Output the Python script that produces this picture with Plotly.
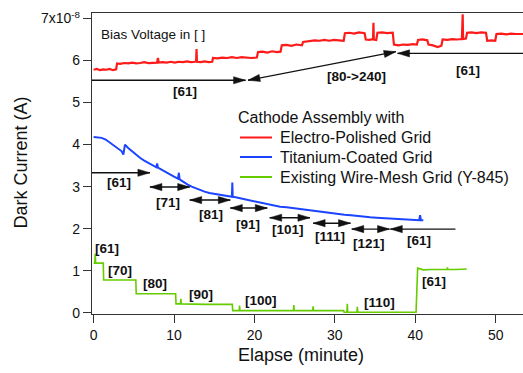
import plotly.graph_objects as go

# ---------------- data ----------------
red_x = [0, 0.4, 0.8, 1.2, 1.6, 2.0, 2.4, 2.8, 2.92, 3.3, 3.8, 4.3, 4.8, 5.3, 5.8, 6.3, 6.8, 7.3, 7.9, 8.0,
         8.1, 8.6, 9.1, 9.6, 10.1, 10.6, 11.1, 11.6, 12.1, 12.6, 12.75, 12.8, 12.85, 13.3, 13.8, 14.3, 14.75, 14.85,
         15.4, 16.0, 16.6, 17.2, 17.8, 18.4, 19.0, 19.6, 20.3, 20.45, 21.0, 21.6, 22.2, 22.8, 23.25, 23.4,
         24.0, 24.6, 25.2, 25.9, 26.05, 26.6, 27.0, 27.5, 28.1, 28.7, 29.3, 29.9, 30.5, 31.1, 31.25, 31.8,
         32.4, 33.0, 33.7, 33.85, 34.3, 34.75, 34.8, 34.85, 35.15, 35.3, 35.9, 36.5, 37.2, 37.35, 37.9, 38.5,
         39.1, 39.7, 40.2, 40.35, 40.9, 41.5, 41.65, 42.2, 42.8, 43.25, 43.4, 44.0, 44.6, 45.2, 45.8, 45.9,
         45.95, 46.3, 46.45, 47.0, 47.6, 48.2, 48.8, 48.95, 49.5, 49.95, 50.1, 50.7, 51.3, 51.9, 52.5, 53.1, 53.4]
red_y = [5.78, 5.80, 5.77, 5.79, 5.78, 5.80, 5.77, 5.79, 5.93, 5.92, 5.94, 5.93, 5.95, 5.93, 5.94, 5.96, 5.94, 5.95, 5.95, 6.06,
         5.95, 5.96, 5.95, 5.97, 5.95, 5.97, 5.96, 5.98, 5.96, 5.97, 5.98, 6.27, 5.97, 5.96, 5.98, 5.96, 5.97, 6.06,
         6.05, 6.07, 6.06, 6.08, 6.06, 6.08, 6.07, 6.06, 6.07, 6.20, 6.21, 6.19, 6.22, 6.20, 6.21, 6.36,
         6.37, 6.35, 6.38, 6.36, 6.44, 6.45, 6.46, 6.48, 6.47, 6.49, 6.47, 6.49, 6.48, 6.47, 6.65, 6.66,
         6.64, 6.67, 6.65, 6.50, 6.49, 6.51, 6.90, 6.50, 6.49, 6.66, 6.67, 6.65, 6.66, 6.38, 6.36, 6.38,
         6.37, 6.39, 6.38, 6.49, 6.50, 6.48, 6.38, 6.36, 6.32, 6.35, 6.50, 6.49, 6.51, 6.50, 6.51, 7.10,
         6.51, 6.52, 6.66, 6.67, 6.65, 6.67, 6.66, 6.47, 6.48, 6.47, 6.63, 6.64, 6.62, 6.64, 6.63, 6.64, 6.63]

blue_x = [0, 0.5, 1.0, 1.5, 2.0, 2.5, 3.0, 3.5, 3.7, 3.8, 3.9, 4.3, 4.8, 5.3, 5.8, 6.3, 6.8, 7.3, 7.8, 7.9,
          8.0, 8.5, 9.0, 9.5, 10.0, 10.5, 10.6, 10.7, 11.2, 11.7, 12.2, 12.7, 13.2, 13.8, 14.4, 15.0, 15.6, 16.2,
          16.8, 17.2, 17.25, 17.3, 17.8, 18.5, 19.2, 20.0, 20.8, 21.6, 22.4, 23.2, 24.0, 24.8, 25.6, 26.4,
          27.2, 28.0, 28.8, 29.6, 30.4, 31.2, 32.0, 32.8, 33.6, 34.4, 35.2, 36.0, 36.8, 37.6, 38.4, 39.2,
          40.0, 40.5, 40.6, 40.7, 41.0]
blue_y = [4.18, 4.17, 4.16, 4.12, 4.05, 3.99, 3.92, 3.84, 3.76, 3.98, 4.00, 3.92, 3.84, 3.75, 3.68, 3.62, 3.57, 3.51, 3.46, 3.55,
          3.45, 3.40, 3.34, 3.29, 3.24, 3.19, 3.33, 3.17, 3.10, 3.05, 3.00, 2.96, 2.92, 2.88, 2.85, 2.83, 2.81, 2.79,
          2.77, 2.76, 3.10, 2.76, 2.74, 2.71, 2.68, 2.65, 2.61, 2.58, 2.55, 2.52, 2.51, 2.49, 2.47, 2.45,
          2.42, 2.40, 2.38, 2.37, 2.35, 2.33, 2.32, 2.30, 2.29, 2.27, 2.26, 2.25, 2.24, 2.23, 2.22, 2.21,
          2.21, 2.20, 2.32, 2.20, 2.20]

green_x = [0, 0.15, 0.2, 0.25, 1.2, 1.25, 3.0, 5.25, 5.3, 8.0, 10.2, 10.25, 10.8, 10.85, 10.9, 14.0, 17.25, 17.3,
           18.1, 18.15, 18.2, 24.85, 24.9, 24.95, 27.25, 27.3, 27.35, 31.1, 31.15, 31.5, 31.55, 31.6, 32.75,
           32.8, 32.85, 36.0, 40.1, 40.3, 41.0, 42.0, 43.95, 44.0, 44.05, 45.0, 46.4]
green_y = [1.18, 1.18, 1.40, 1.18, 1.18, 0.78, 0.78, 0.78, 0.45, 0.45, 0.45, 0.21, 0.21, 0.33, 0.21, 0.20, 0.20, 0.05,
           0.05, 0.17, 0.05, 0.05, 0.18, 0.05, 0.05, 0.15, 0.05, 0.05, 0.01, 0.01, 0.21, 0.01, 0.01,
           0.14, 0.01, 0.01, 0.01, 1.06, 1.02, 1.03, 1.03, 1.08, 1.03, 1.03, 1.04]

legend_title = "Cathode Assembly with"
series_names = ["Electro-Polished Grid", "Titanium-Coated Grid", "Existing Wire-Mesh Grid (Y-845)"]
series_colors = ["#ff1a1a", "#1a44ff", "#66cc00"]

# arrows: (x0, y0) -> (x1, y1), head at end (and at start when "both")
arrow_x0 = [-0.2, 19.2, 53.4, -0.2, 7.0, 11.95, 17.0, 21.9, 27.3, 32.1, 45.0]
arrow_y0 = [5.53, 5.53, 6.17, 3.33, 2.99, 2.68, 2.49, 2.26, 2.13, 1.99, 1.99]
arrow_x1 = [18.9, 37.6, 37.8, 7.0, 11.95, 17.0, 21.6, 26.9, 31.95, 36.8, 36.9]
arrow_y1 = [5.53, 6.21, 6.17, 3.33, 2.99, 2.68, 2.49, 2.26, 2.13, 1.99, 1.99]
arrow_both = [False, True, False, False, True, True, True, True, True, True, False]

label_text = ["[61]", "[80->240]", "[61]",
              "[61]", "[71]", "[81]", "[91]", "[101]", "[111]", "[121]", "[61]",
              "[61]", "[70]", "[80]", "[90]", "[100]", "[110]", "[61]"]
label_x = [11.4, 32.7, 46.6,
           3.2, 9.25, 14.6, 19.2, 24.2, 29.4, 34.3, 40.5,
           1.64, 3.3, 7.6, 13.4, 20.8, 35.5, 42.3]
label_y = [5.26, 5.61, 5.77,
           3.10, 2.63, 2.34, 2.09, 1.97, 1.81, 1.65, 1.73,
           1.52, 1.00, 0.70, 0.43, 0.28, 0.24, 0.74]

y_tickvals = [0, 1, 2, 3, 4, 5, 6, 7]
y_ticktext = ["0", "1", "2", "3", "4", "5", "6", "7x10<sup>-8</sup>"]
x_tickvals = [0, 10, 20, 30, 40, 50]

# ---------------- figure ----------------
W, H = 523, 373
ML, MR, MT, MB = 92, 0, 13, 59
XR = [-0.2, 53.4]
YR = [-0.03, 7.13]
FONT = "Arial, Liberation Sans, sans-serif"
PW, PH = W - ML - MR, H - MT - MB


def pxx(px):  # pixel x -> paper x
    return (px - ML) / PW


def pxy(py):  # pixel y -> paper y
    return (H - MB - py) / PH


fig = go.Figure()
for xs, ys, nm, col, lw in zip([red_x, blue_x, green_x], [red_y, blue_y, green_y],
                               series_names, series_colors, [2.2, 2.0, 1.6]):
    fig.add_trace(go.Scatter(x=xs, y=ys, mode="lines", name=nm, showlegend=False,
                             line=dict(color=col, width=lw)))

# arrows built from arrow lists, heads sized in pixels
kx = PW / (XR[1] - XR[0])
ky = PH / (YR[1] - YR[0])
HEAD_L, HEAD_W = 12.0, 3.6
shapes = []


def head(xt, yt, xf, yf):
    dxp = (xt - xf) * kx
    dyp = (yt - yf) * ky
    n = (dxp ** 2 + dyp ** 2) ** 0.5
    ux, uy = dxp / n, dyp / n
    bx, by = -ux * HEAD_L, -uy * HEAD_L
    qx, qy = -uy * HEAD_W, ux * HEAD_W
    p1 = (xt + (bx + qx) / kx, yt + (by + qy) / ky)
    p2 = (xt + (bx - qx) / kx, yt + (by - qy) / ky)
    return dict(type="path", xref="x", yref="y",
                path=f"M{xt},{yt} L{p1[0]},{p1[1]} L{p2[0]},{p2[1]} Z",
                fillcolor="#111", line=dict(color="#111", width=0.5))


for x0, y0, x1, y1, both in zip(arrow_x0, arrow_y0, arrow_x1, arrow_y1, arrow_both):
    shapes.append(dict(type="line", xref="x", yref="y", x0=x0, y0=y0, x1=x1, y1=y1,
                       line=dict(color="#111", width=1.4)))
    shapes.append(head(x1, y1, x0, y0))
    if both:
        shapes.append(head(x0, y0, x1, y1))

annotations = []
for t, x, y in zip(label_text, label_x, label_y):
    annotations.append(dict(x=x, y=y, xref="x", yref="y", text=f"<b>{t}</b>", showarrow=False,
                            font=dict(family=FONT, size=13.5, color="#111"),
                            xanchor="center", yanchor="middle"))

# legend drawn as text + sample lines
LEG_TITLE_Y = 118
LEG_ROWS_Y = [137.5, 157, 177]
annotations.append(dict(x=pxx(236), y=pxy(LEG_TITLE_Y), xref="paper", yref="paper", text=legend_title,
                        showarrow=False, font=dict(family=FONT, size=16, color="#111"),
                        xanchor="left", yanchor="middle"))
for nm, col, ry in zip(series_names, series_colors, LEG_ROWS_Y):
    shapes.append(dict(type="line", xref="paper", yref="paper", x0=pxx(240), x1=pxx(272),
                       y0=pxy(ry), y1=pxy(ry), line=dict(color=col, width=2)))
    annotations.append(dict(x=pxx(278), y=pxy(ry), xref="paper", yref="paper", text=nm,
                            showarrow=False, font=dict(family=FONT, size=16, color="#111"),
                            xanchor="left", yanchor="middle"))

annotations.append(dict(x=pxx(99), y=pxy(34), xref="paper", yref="paper", text="Bias Voltage in [ ]",
                        showarrow=False, font=dict(family=FONT, size=13.5, color="#111"),
                        xanchor="left", yanchor="middle"))
annotations.append(dict(x=pxx(300.5), y=pxy(355), xref="paper", yref="paper", text="Elapse (minute)",
                        showarrow=False, font=dict(family=FONT, size=18, color="#111"),
                        xanchor="center", yanchor="middle"))
annotations.append(dict(x=pxx(20.5), y=pxy(163), xref="paper", yref="paper", text="Dark Current (A)",
                        showarrow=False, textangle=-90, font=dict(family=FONT, size=18, color="#111"),
                        xanchor="center", yanchor="middle"))

fig.update_layout(
    width=W, height=H,
    margin=dict(l=ML, r=MR, t=MT, b=MB, pad=0),
    paper_bgcolor="white", plot_bgcolor="white",
    font=dict(family=FONT, size=14, color="#111"),
    shapes=shapes, annotations=annotations,
    showlegend=False,
    xaxis=dict(range=XR, tickvals=x_tickvals, ticks="outside", ticklen=8, tickwidth=1.3, tickcolor="#333",
               showline=True, linecolor="#333", linewidth=1.3, mirror=True, showgrid=False, zeroline=False,
               tickfont=dict(family=FONT, size=14, color="#111")),
    yaxis=dict(range=YR, tickvals=y_tickvals, ticktext=y_ticktext, ticks="outside", ticklen=8, tickwidth=1.3,
               tickcolor="#333", showline=True, linecolor="#333", linewidth=1.3, showgrid=False, zeroline=False,
               tickfont=dict(family=FONT, size=14, color="#111")),
)

fig.write_html("out.html", config={"displayModeBar": False},
               post_script="document.body.style.margin='0px';document.body.style.overflow='hidden';")
